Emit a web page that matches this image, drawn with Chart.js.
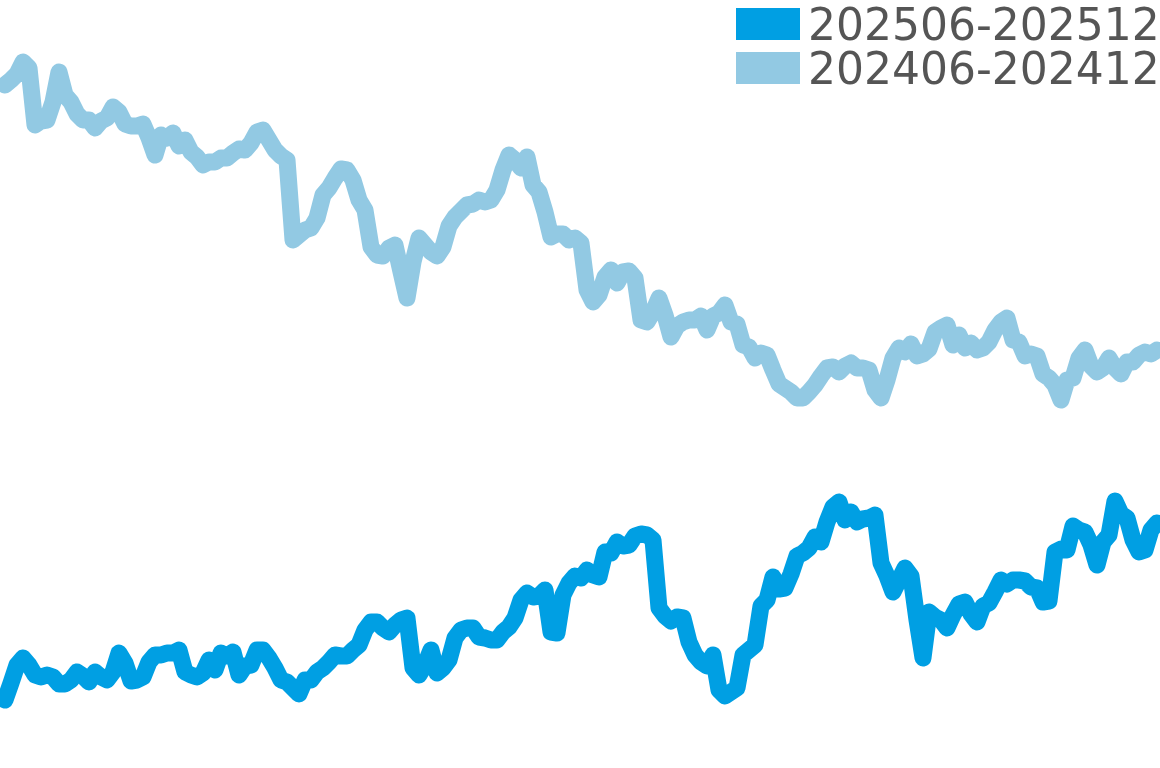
<!DOCTYPE html>
<html>
<head>
<meta charset="utf-8">
<script src="https://cdn.jsdelivr.net/npm/chart.js@4/dist/chart.umd.min.js"></script>
<style>
    html, body { margin: 0; padding: 0; background: #fff; }
    #wrap { position: relative; width: 1160px; height: 768px; }
    #legend { position: absolute; left: 736px; top: 2px; font-family: 'DejaVu Sans', sans-serif; font-size: 44px; color: #555; }
    .row { display: flex; align-items: center; height: 44px; }
    .swatch { width: 64px; height: 32px; margin-right: 8px; }
</style>
</head>
<body>
<div id="wrap">
    <canvas id="chart" width="1160" height="768"></canvas>
    <div id="legend"></div>
</div>
<script>
// Series labels
const seriesNames = ['202506-202512', '202406-202412'];
const seriesColors = ['#009FE3', '#92C9E3'];

// 202506-202512 (daily index level)
const current = [
    68, 85, 103, 110, 103, 93, 91, 93, 91, 84,
    84, 88, 96, 92, 86, 96, 91, 88, 96, 115,
    105, 87, 88, 91, 106, 113, 113, 115, 115, 118,
    96, 93, 91, 95, 108, 98, 115, 112, 116, 93,
    102, 103, 118, 118, 110, 100, 88, 86, 80, 74,
    88, 88, 96, 100, 106, 113, 112, 112, 118, 123,
    138, 146, 146, 140, 136, 143, 148, 150, 100, 93,
    103, 118, 95, 100, 108, 130, 138, 140, 140, 131,
    130, 128, 128, 136, 141, 150, 168, 175, 171, 172,
    178, 136, 135, 173, 185, 192, 190, 198, 193, 191,
    216, 215, 226, 222, 223, 232, 234, 233, 228, 160,
    152, 147, 151, 150, 126, 113, 106, 102, 113, 78,
    72, 76, 80, 113, 118, 123, 162, 168, 191, 179,
    180, 194, 212, 215, 220, 231, 226, 246, 261, 266,
    248, 256, 246, 249, 250, 253, 205, 192, 176, 188,
    200, 192, 148, 110, 156, 151, 148, 140, 153, 164,
    166, 154, 146, 162, 165, 176, 188, 184, 188, 188,
    187, 181, 180, 166, 167, 216, 219, 218, 242, 238,
    236, 223, 203, 226, 233, 267, 254, 250, 228, 216,
    218, 238, 245
];

// 202406-202412
const previous = [
    683, 688, 694, 706, 700, 643, 647, 648, 666, 696,
    673, 666, 654, 648, 648, 640, 647, 650, 661, 656,
    644, 642, 642, 644, 630, 613, 633, 630, 635, 622,
    628, 616, 611, 603, 606, 606, 610, 610, 615, 619,
    618, 625, 636, 638, 628, 618, 612, 608, 528, 533,
    538, 540, 550, 573, 580, 590, 599, 598, 588, 568,
    558, 521, 513, 512, 520, 523, 496, 470, 506, 530,
    523, 516, 512, 521, 542, 551, 557, 563, 564, 568,
    566, 568, 578, 598, 613, 608, 600, 611, 583, 576,
    556, 531, 534, 534, 528, 530, 525, 478, 466, 473,
    491, 498, 485, 496, 497, 490, 448, 446, 456, 470,
    453, 431, 442, 446, 448, 448, 452, 438, 452, 455,
    463, 446, 444, 423, 421, 410, 415, 413, 398, 384,
    380, 376, 370, 370, 376, 383, 392, 400, 401, 396,
    402, 405, 400, 400, 398, 378, 370, 388, 410, 420,
    416, 424, 412, 414, 419, 436, 440, 443, 423, 433,
    420, 425, 418, 420, 426, 438, 446, 450, 428, 426,
    412, 414, 412, 394, 390, 383, 368, 388, 390, 410,
    418, 402, 396, 400, 410, 400, 394, 406, 406, 413,
    416, 414, 418
];

// trading-day index along the x axis
const days = current.map((_, i) => i + 1);

function buildLegend() {
    const legend = document.getElementById('legend');
    seriesNames.forEach((name, i) => {
        const row = document.createElement('div');
        row.className = 'row';
        row.innerHTML = `<span class="swatch" style="background:${seriesColors[i]}"></span><span>${name}</span>`;
        legend.appendChild(row);
    });
}

function drawChart() {
    const ctx = document.getElementById('chart').getContext('2d');
    new Chart(ctx, {
        type: 'line',
        data: {
            labels: days,
            datasets: [
                {
                    label: seriesNames[0],
                    data: current,
                    borderColor: seriesColors[0],
                    borderWidth: 17,
                    borderJoinStyle: 'round',
                    borderCapStyle: 'round',
                    pointRadius: 0,
                    tension: 0,
                    fill: false
                },
                {
                    label: seriesNames[1],
                    data: previous,
                    borderColor: seriesColors[1],
                    borderWidth: 17,
                    borderJoinStyle: 'round',
                    borderCapStyle: 'round',
                    pointRadius: 0,
                    tension: 0,
                    fill: false
                }
            ]
        },
        options: {
            responsive: false,
            animation: false,
            devicePixelRatio: 1,
            layout: { padding: { left: 5, right: 3, top: 0, bottom: 0 } },
            scales: {
                x: { display: false },
                y: { display: false, min: 0, max: 768 }
            },
            plugins: {
                legend: { display: false },
                tooltip: { enabled: false }
            }
        }
    });
}

buildLegend();
drawChart();
</script>
</body>
</html>
